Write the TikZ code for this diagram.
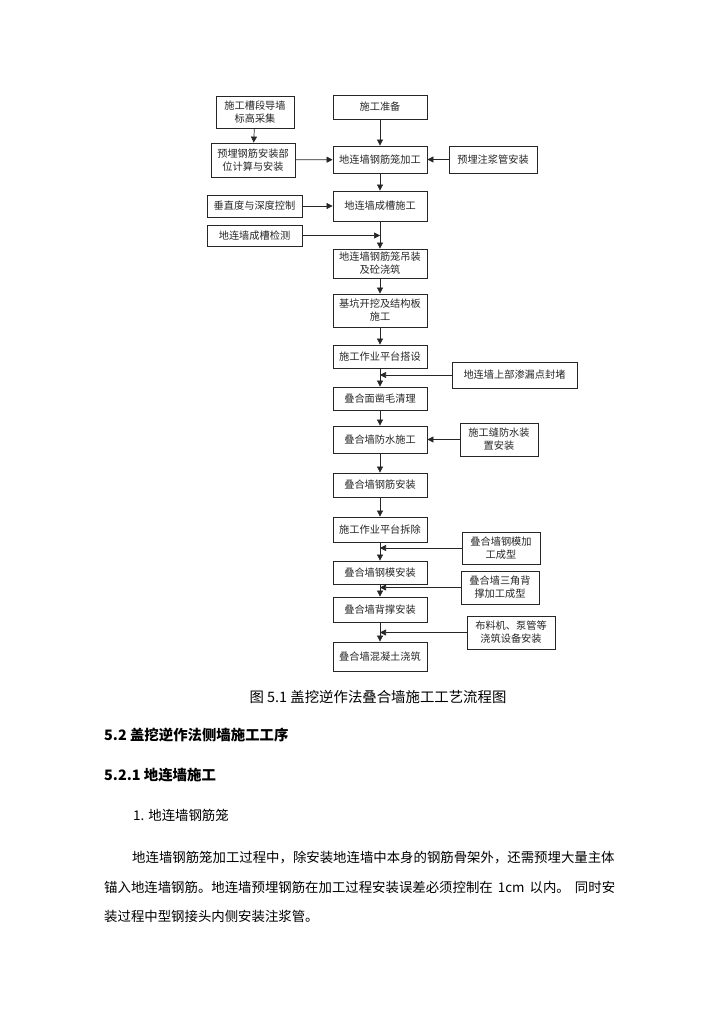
\documentclass[tikz,border=0pt]{standalone}
\usepackage{fontspec}
\setmainfont{Noto Sans CJK SC}
\usetikzlibrary{arrows.meta}
\newcommand\mybox[6]{\node[box, minimum width={(#4-#2)*1pt}, minimum height={(#5-#3)*1pt}] (#1) at ({(#2+#4)/2},{(#3+#5)/2}) {#6};}
\begin{document}
\begin{tikzpicture}[x=1pt,y=-1pt,
  box/.style={draw=black!85, line width=0.8pt, inner sep=0pt, align=center, text=black!85,
    font=\fontsize{10.2}{13}\selectfont,
    preaction={draw=black!45, line width=0.9pt, transform canvas={shift={(0.9pt,-0.9pt)}}}},
  arr/.style={-{Triangle[length=6pt,width=6pt]}, line width=0.7pt, draw=black!85},
  body/.style={anchor=west, inner sep=0pt, font=\fontsize{13.4}{16}\selectfont},
  head/.style={anchor=west, inner sep=0pt, font=\bfseries\fontsize{14.4}{16}\selectfont}]
\useasboundingbox (0,0) rectangle (724,1024);
% main column
\mybox{zb}{333}{95}{427}{119}{施工准备}
\mybox{jg}{333}{146}{427}{173}{地连墙钢筋笼加工}
\mybox{cc}{333}{191}{427}{221}{地连墙成槽施工}
\mybox{dz}{333}{249}{427}{278}{地连墙钢筋笼吊装\\及砼浇筑}
\mybox{jk}{333}{294}{427}{327}{基坑开挖及结构板\\施工}
\mybox{ds}{333}{345}{427}{368}{施工作业平台搭设}
\mybox{zm}{333}{387}{427}{410}{叠合面凿毛清理}
\mybox{fs}{333}{426}{427}{453}{叠合墙防水施工}
\mybox{gj}{333}{473}{427}{497}{叠合墙钢筋安装}
\mybox{cd}{333}{517}{427}{542}{施工作业平台拆除}
\mybox{gm}{333}{561}{427}{584}{叠合墙钢模安装}
\mybox{bc}{333}{597}{427}{622}{叠合墙背撑安装}
\mybox{hn}{333}{642}{427}{671}{叠合墙混凝土浇筑}
% side boxes
\mybox{dq}{216}{96}{294}{128}{施工槽段导墙\\标高采集}
\mybox{yl}{211}{143}{295}{177}{预埋钢筋安装部\\位计算与安装}
\mybox{zj}{449}{146}{537}{173}{预埋注浆管安装}
\mybox{cz}{207}{195}{302}{217}{垂直度与深度控制}
\mybox{jc}{207}{225}{302}{246}{地连墙成槽检测}
\mybox{sl}{452}{362}{577}{388}{地连墙上部渗漏点封堵}
\mybox{sg}{460}{423}{538}{456}{施工缝防水装\\置安装}
\mybox{mj}{462}{532}{540}{564}{叠合墙钢模加\\工成型}
\mybox{sj}{461}{571}{539}{604}{叠合墙三角背\\撑加工成型}
\mybox{bl}{467}{616}{555}{649}{布料机、泵管等\\浇筑设备安装}
% main arrows
\draw[arr] (zb) -- (jg);
\draw[arr] (jg) -- (cc);
\draw[arr] (cc) -- (dz);
\draw[arr] (dz) -- (jk);
\draw[arr] (jk) -- (ds);
\draw[arr] (ds) -- (zm);
\draw[arr] (zm) -- (fs);
\draw[arr] (fs) -- (gj);
\draw[arr] (gj) -- (cd);
\draw[arr] (cd) -- (gm);
\draw[arr] (gm) -- (bc);
\draw[arr] (bc) -- (hn);
% side arrows
\draw[arr] (dq) -- (yl);
\draw[arr] (yl) -- (jg);
\draw[arr] (zj) -- (jg);
\draw[arr] (cz.east) -- (cz.east -| cc.west);
\draw[arr] (jc.east) -- (jc.east -| cc.south);
\draw[arr] (sl.west) -- (sl.west -| ds.south);
\draw[arr] (sg.west) -- (sg.west -| fs.east);
\draw[arr] (mj.west) -- (mj.west -| cd.south);
\draw[arr] (sj.west) -- (sj.west -| gm.south);
\draw[arr] (bl.west) -- (bl.west -| bc.south);
% text
\node[inner sep=0pt, font=\fontsize{14.4}{16}\selectfont] (cap) at (378,697) {图 5.1 盖挖逆作法叠合墙施工工艺流程图};
\node[head] (h1) at (104,735) {5.2 盖挖逆作法侧墙施工工序};
\node[head] (h2) at (104,775) {5.2.1 地连墙施工};
\node[body] (p0) at (133,815) {1. 地连墙钢筋笼};
\node[body] (p1) at (132,858) {地连墙钢筋笼加工过程中，除安装地连墙中本身的钢筋骨架外，还需预埋大量主体};
\node[body] (p2) at (104,887) {\makebox[511pt][s]{锚入地连墙钢筋。地连墙预埋钢筋在加工过程安装误差必须控制在 1cm 以内。 同时安}};
\node[body] (p3) at (104,916) {装过程中型钢接头内侧安装注浆管。};
\end{tikzpicture}
\end{document}
